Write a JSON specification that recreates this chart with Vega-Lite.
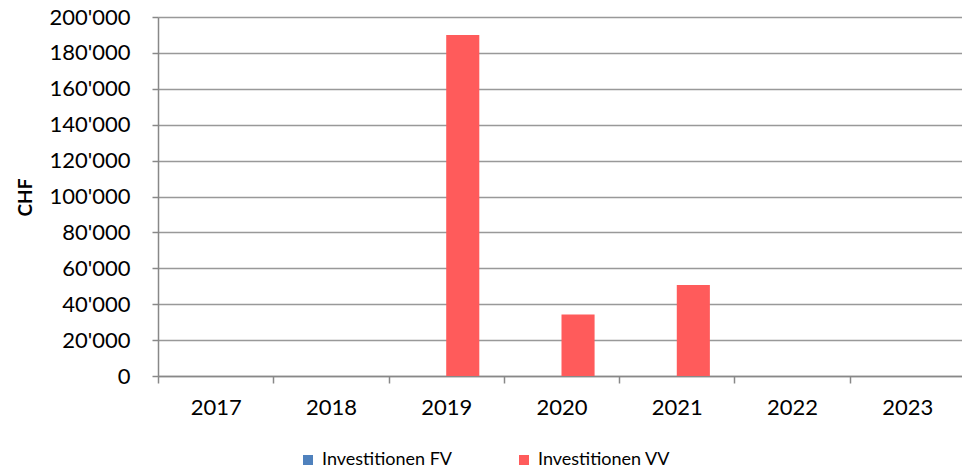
{
  "$schema": "https://vega.github.io/schema/vega-lite/v6.json",
  "autosize": {"type": "none"},
  "width": 807,
  "height": 359,
  "padding": {"left": 158, "top": 17, "right": -3, "bottom": 95},
  "background": "white",
  "data": {
    "values": [
      {"year": "2017", "series": "Investitionen FV", "value": 0},
      {"year": "2017", "series": "Investitionen VV", "value": 0},
      {"year": "2018", "series": "Investitionen FV", "value": 0},
      {"year": "2018", "series": "Investitionen VV", "value": 0},
      {"year": "2019", "series": "Investitionen FV", "value": 0},
      {"year": "2019", "series": "Investitionen VV", "value": 190000},
      {"year": "2020", "series": "Investitionen FV", "value": 0},
      {"year": "2020", "series": "Investitionen VV", "value": 34200},
      {"year": "2021", "series": "Investitionen FV", "value": 0},
      {"year": "2021", "series": "Investitionen VV", "value": 50700},
      {"year": "2022", "series": "Investitionen FV", "value": 0},
      {"year": "2022", "series": "Investitionen VV", "value": 0},
      {"year": "2023", "series": "Investitionen FV", "value": 0},
      {"year": "2023", "series": "Investitionen VV", "value": 0}
    ]
  },
  "mark": {"type": "bar"},
  "encoding": {
    "x": {
      "field": "year",
      "type": "nominal",
      "scale": {"paddingInner": 0, "paddingOuter": 0},
      "axis": {
        "title": null,
        "labelAngle": 0,
        "labelFont": "Lato",
        "labelFontSize": 22,
        "labelColor": "#000000",
        "labelPadding": 14,
        "domainColor": "#888888",
        "domainWidth": 1.5,
        "tickColor": "#888888",
        "tickWidth": 1.5,
        "tickSize": 7,
        "tickBand": "extent",
        "grid": false
      }
    },
    "xOffset": {
      "field": "series",
      "type": "nominal",
      "scale": {"paddingInner": 0, "paddingOuter": 0.742}
    },
    "y": {
      "field": "value",
      "type": "quantitative",
      "scale": {"domain": [0, 200000], "nice": false},
      "axis": {
        "title": "CHF",
        "titleFont": "Lato",
        "titleFontSize": 19,
        "titleFontWeight": "bold",
        "titleColor": "#000000",
        "titleX": -133,
        "titleY": 180,
        "titleBaseline": "middle",
        "titleAlign": "center",
        "titleAngle": 270,
        "values": [0, 20000, 40000, 60000, 80000, 100000, 120000, 140000, 160000, 180000, 200000],
        "labelExpr": "replace(format(datum.value, ','), /,/g, \"'\")",
        "labelFont": "Lato",
        "labelFontSize": 22,
        "labelColor": "#000000",
        "labelPadding": 22,
        "domainColor": "#888888",
        "domainWidth": 1.5,
        "tickColor": "#888888",
        "tickWidth": 1.5,
        "tickSize": 6,
        "grid": true,
        "gridColor": "#999999",
        "gridWidth": 1.5
      }
    },
    "color": {
      "field": "series",
      "type": "nominal",
      "scale": {
        "domain": ["Investitionen FV", "Investitionen VV"],
        "range": ["#4F81BD", "#FF5B5B"]
      },
      "legend": {
        "title": null,
        "orient": "none",
        "legendX": 141,
        "legendY": 434,
        "direction": "horizontal",
        "symbolType": "square",
        "symbolSize": 100,
        "symbolStrokeWidth": 0,
        "labelFont": "Lato",
        "labelFontSize": 18,
        "labelColor": "#000000",
        "labelOffset": 5,
        "columnPadding": 62
      }
    }
  },
  "config": {
    "view": {"stroke": null}
  }
}
